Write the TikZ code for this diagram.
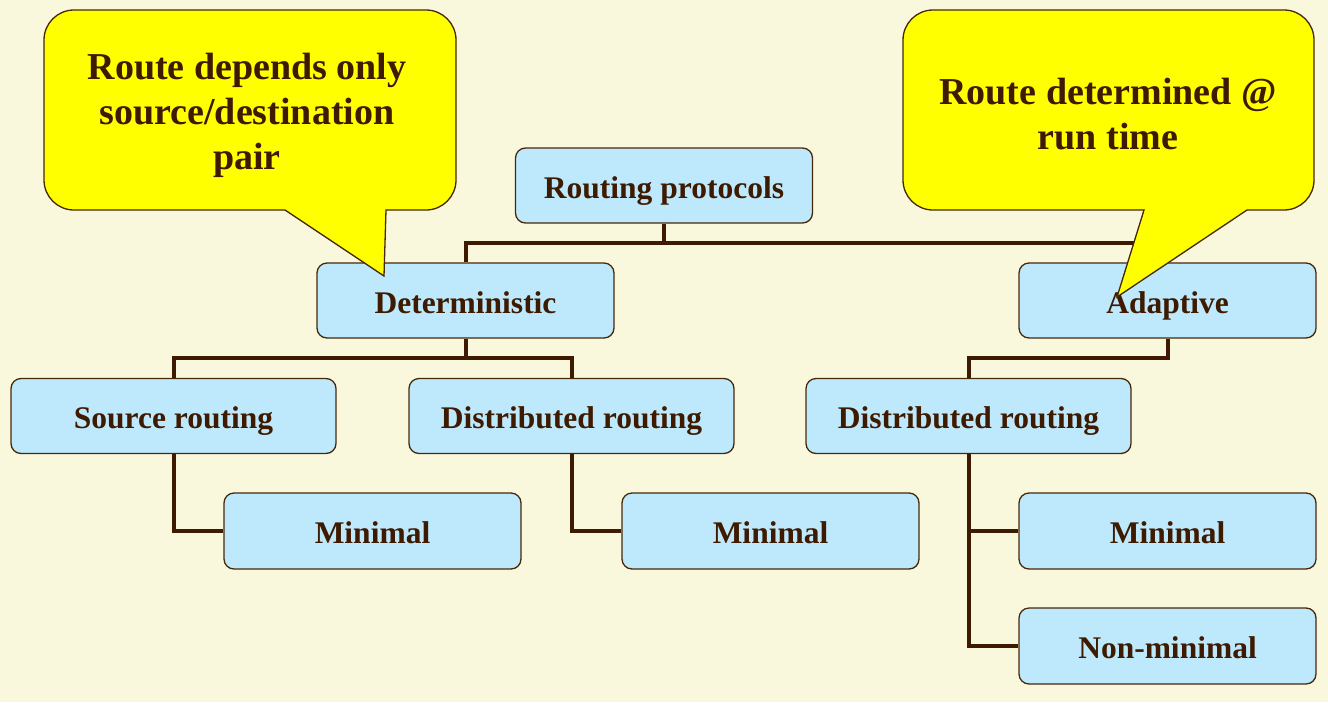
\documentclass[tikz,border=0pt]{standalone}
\usepackage{fontspec}
\setmainfont{Liberation Serif}
\definecolor{bgc}{RGB}{250,248,220}
\definecolor{boxc}{RGB}{190,233,253}
\definecolor{edgec}{RGB}{70,40,10}
\definecolor{txtc}{RGB}{61,26,0}
\definecolor{callc}{RGB}{255,255,0}
\tikzset{
  box/.style={draw=edgec, fill=boxc, rounded corners=10pt, line width=1.3pt,
    minimum width=297pt, minimum height=75pt, inner sep=0pt, text=txtc,
    text height=25pt, text depth=0pt,
    font=\fontsize{31.5}{36}\selectfont\bfseries},
  widebox/.style={box, minimum width=325pt},
  conn/.style={draw=txtc, line width=4pt},
  callout/.style={draw=edgec, fill=callc, line width=1.3pt, line join=miter},
  calltext/.style={text=txtc, align=center, inner sep=0pt,
    font=\fontsize{38}{45}\selectfont\bfseries}
}
\begin{document}
\begin{tikzpicture}[x=1pt,y=-1pt]
\useasboundingbox (0,0) rectangle (1328,702);
\fill[bgc] (0,0) rectangle (1328,702);
% boxes
\node[box] (rp) at (664,185.5) {Routing protocols};
\node[box] (det) at (465.5,300.5) {Deterministic};
\node[box] (ada) at (1167.5,300.5) {Adaptive};
\node[widebox] (src) at (173.5,416) {Source routing};
\node[widebox] (dl) at (571.5,416) {Distributed routing};
\node[widebox] (dr) at (968.5,416) {Distributed routing};
\node[box, minimum height=76pt] (m1) at (372.5,531) {Minimal};
\node[box, minimum height=76pt] (m2) at (770.5,531) {Minimal};
\node[box, minimum height=76pt] (m3) at (1167.5,531) {Minimal};
\node[box, minimum height=76pt] (nm) at (1167.5,646) {Non-minimal};
% connectors
\draw[conn] (rp.south) -- ++(0,19) -| (det.north);
\draw[conn] (rp.south) -- ++(0,19) -| (ada.north);
\draw[conn] (det.south) -- ++(0,19) -| (src.north);
\draw[conn] (det.south) -- ++(0,19) -| (dl.north);
\draw[conn] (ada.south) -- ++(0,19) -| (dr.north);
\draw[conn] (src.south) |- (m1.west);
\draw[conn] (dl.south) |- (m2.west);
\draw[conn] (dr.south) |- (m3.west);
\draw[conn] (dr.south) |- (nm.west);
% callouts
\path[callout] (386,210) [rounded corners=30pt] -- (456,210) -- (456,10) -- (44,10) -- (44,210) [sharp corners] -- (285,210) -- (384,276) -- cycle;
\node[calltext] (c1) at (247,115) {Route depends only\\source/destination\\pair};
\path[callout] (1247,210) [rounded corners=30pt] -- (1314,210) -- (1314,10) -- (903,10) -- (903,210) [sharp corners] -- (1144,210) -- (1117,297) -- cycle;
\node[calltext] (c2) at (1108,114) {Route determined @\\run time};
\end{tikzpicture}
\end{document}
